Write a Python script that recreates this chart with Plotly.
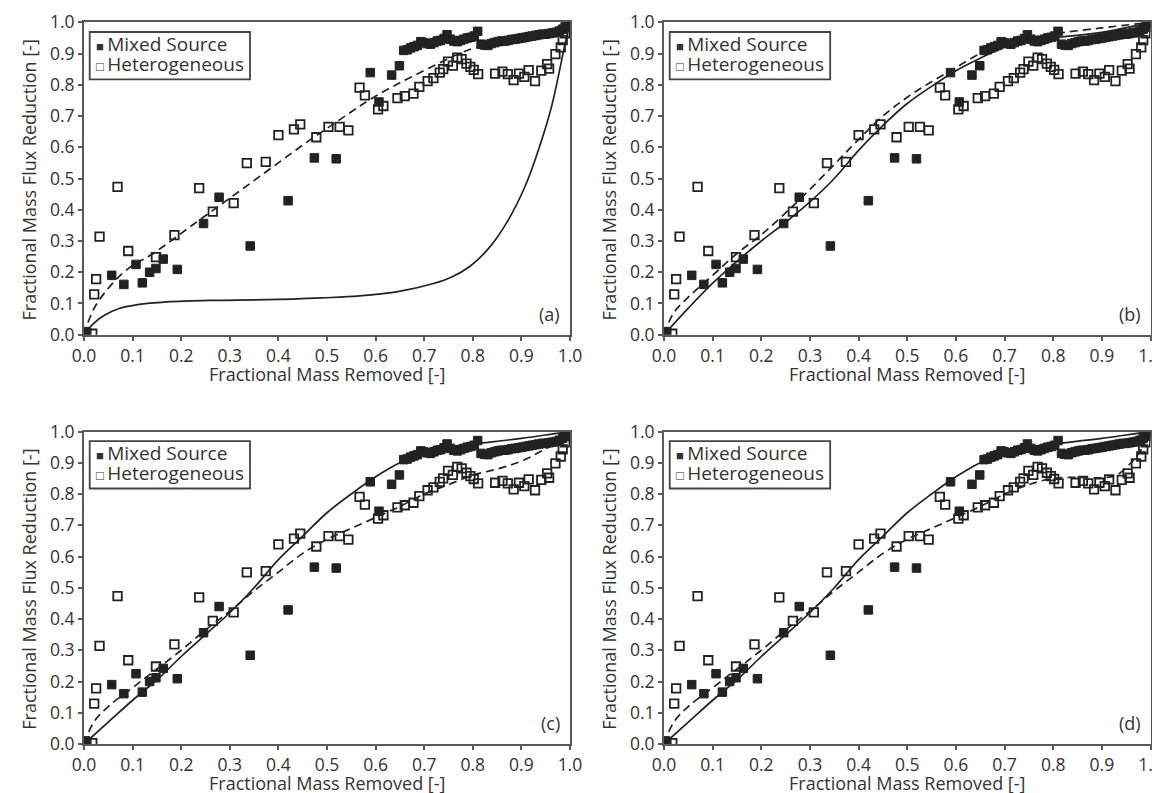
import plotly.graph_objects as go

# ---------------- data ----------------
mixed_x = [0.003, 0.057, 0.082, 0.107, 0.120, 0.135, 0.148, 0.163, 0.192, 0.246, 0.278, 0.342,
           0.420, 0.474, 0.519, 0.589, 0.607, 0.633, 0.649,
           0.658, 0.665, 0.672, 0.679, 0.686, 0.693, 0.699, 0.706, 0.713, 0.720, 0.727, 0.734,
           0.741, 0.747, 0.754, 0.761, 0.768, 0.775, 0.782, 0.789, 0.796, 0.803, 0.810, 0.817,
           0.824, 0.831, 0.838, 0.845, 0.852, 0.859, 0.866, 0.873, 0.880, 0.887, 0.894, 0.901,
           0.908, 0.915, 0.922, 0.929, 0.936, 0.943, 0.950, 0.957, 0.964, 0.971, 0.978, 0.985,
           0.990, 0.995, 0.999]
mixed_y = [0.010, 0.190, 0.161, 0.225, 0.166, 0.200, 0.212, 0.242, 0.209, 0.356, 0.440, 0.284,
           0.429, 0.566, 0.563, 0.839, 0.745, 0.831, 0.861,
           0.910, 0.912, 0.918, 0.922, 0.926, 0.938, 0.935, 0.932, 0.930, 0.935, 0.940, 0.942,
           0.948, 0.960, 0.946, 0.940, 0.938, 0.942, 0.946, 0.950, 0.952, 0.956, 0.971, 0.930,
           0.927, 0.926, 0.932, 0.935, 0.938, 0.940, 0.940, 0.942, 0.945, 0.946, 0.948, 0.950,
           0.952, 0.954, 0.956, 0.958, 0.960, 0.962, 0.962, 0.964, 0.966, 0.968, 0.972, 0.978,
           0.986, 0.993, 1.000]

hetero_x = [0.005, 0.017, 0.021, 0.025, 0.032, 0.069, 0.091, 0.148, 0.186, 0.237, 0.265, 0.308,
            0.335, 0.374, 0.400, 0.432, 0.445, 0.478, 0.503, 0.526, 0.544, 0.567, 0.578, 0.605,
            0.616, 0.645, 0.660, 0.678, 0.690, 0.707, 0.719, 0.732, 0.739, 0.749, 0.759, 0.768,
            0.777, 0.787, 0.795, 0.802, 0.811, 0.846, 0.861, 0.872, 0.884, 0.895, 0.906, 0.915,
            0.928, 0.941, 0.953, 0.957, 0.970, 0.981, 0.985, 0.990, 0.995, 0.998]
hetero_y = [0.005, 0.003, 0.129, 0.178, 0.314, 0.473, 0.268, 0.248, 0.319, 0.469, 0.394, 0.421,
            0.549, 0.553, 0.639, 0.657, 0.673, 0.632, 0.665, 0.665, 0.654, 0.791, 0.766, 0.721,
            0.732, 0.757, 0.764, 0.772, 0.793, 0.812, 0.821, 0.839, 0.850, 0.874, 0.861, 0.887,
            0.882, 0.868, 0.857, 0.848, 0.834, 0.836, 0.842, 0.834, 0.815, 0.836, 0.825, 0.847,
            0.812, 0.845, 0.866, 0.852, 0.898, 0.920, 0.943, 0.965, 0.986, 1.000]

# model curves, per panel (solid = mixed-source model, dashed = heterogeneous model)
a_solid_x = [0.0, 0.019, 0.042, 0.072, 0.110, 0.171, 0.262, 0.376, 0.490, 0.567, 0.643, 0.719,
             0.757, 0.795, 0.833, 0.871, 0.909, 0.939, 0.962, 0.977, 0.989, 1.0]
a_solid_y = [0.0, 0.035, 0.062, 0.084, 0.096, 0.105, 0.110, 0.112, 0.118, 0.124, 0.137, 0.164,
             0.185, 0.220, 0.277, 0.362, 0.480, 0.610, 0.730, 0.835, 0.925, 1.0]
a_dash_x = [0.0, 0.003, 0.025, 0.082, 0.148, 0.224, 0.300, 0.376, 0.452, 0.528, 0.598, 0.680,
            0.794, 0.85, 0.90, 0.95, 1.0]
a_dash_y = [0.0, 0.016, 0.096, 0.200, 0.266, 0.352, 0.437, 0.523, 0.609, 0.690, 0.762, 0.830,
            0.913, 0.935, 0.950, 0.965, 1.0]

b_solid_x = [0.0, 0.05, 0.10, 0.15, 0.20, 0.25, 0.30, 0.35, 0.40, 0.45, 0.50, 0.55, 0.60, 0.65,
             0.70, 0.75, 0.80, 0.90, 1.0]
b_solid_y = [0.0, 0.085, 0.165, 0.235, 0.300, 0.360, 0.425, 0.500, 0.590, 0.670, 0.740, 0.795,
             0.845, 0.885, 0.920, 0.940, 0.950, 0.968, 1.0]
b_dash_x = [0.0, 0.02, 0.05, 0.10, 0.15, 0.20, 0.25, 0.30, 0.35, 0.40, 0.45, 0.50, 0.55, 0.60,
            0.65, 0.70, 0.75, 0.80, 0.90, 1.0]
b_dash_y = [0.0, 0.070, 0.120, 0.190, 0.260, 0.320, 0.390, 0.465, 0.545, 0.625, 0.700, 0.760,
            0.810, 0.855, 0.900, 0.930, 0.950, 0.963, 0.982, 1.0]

c_solid_x = [0.0, 0.05, 0.10, 0.15, 0.20, 0.25, 0.30, 0.35, 0.40, 0.45, 0.50, 0.55, 0.60, 0.65,
             0.70, 0.75, 0.80, 0.90, 1.0]
c_solid_y = [0.0, 0.070, 0.140, 0.205, 0.280, 0.350, 0.420, 0.500, 0.590, 0.665, 0.740, 0.800,
             0.855, 0.900, 0.930, 0.950, 0.960, 0.978, 1.0]
c_dash_x = [0.0, 0.02, 0.05, 0.10, 0.15, 0.20, 0.25, 0.30, 0.35, 0.40, 0.45, 0.50, 0.55, 0.60,
            0.65, 0.70, 0.75, 0.80, 0.85, 0.90, 0.95, 1.0]
c_dash_y = [0.0, 0.070, 0.120, 0.180, 0.240, 0.300, 0.365, 0.425, 0.490, 0.550, 0.610, 0.655,
            0.690, 0.725, 0.760, 0.800, 0.830, 0.860, 0.880, 0.905, 0.945, 0.990]

d_solid_x = c_solid_x
d_solid_y = c_solid_y
d_dash_x = [0.0, 0.02, 0.05, 0.10, 0.15, 0.20, 0.25, 0.30, 0.35, 0.40, 0.45, 0.50, 0.55, 0.60,
            0.65, 0.70, 0.75, 0.80, 0.85, 0.90, 0.93, 0.96, 0.98, 1.0]
d_dash_y = [0.0, 0.070, 0.120, 0.180, 0.240, 0.300, 0.365, 0.425, 0.490, 0.550, 0.610, 0.655,
            0.690, 0.725, 0.760, 0.800, 0.830, 0.850, 0.853, 0.852, 0.860, 0.900, 0.940, 1.0]

panel_labels = ["(a)", "(b)", "(c)", "(d)"]
legend_names = ["Mixed Source", "Heterogeneous"]
x_title = "Fractional Mass Removed [-]"
y_title = "Fractional Mass Flux Reduction [-]"
tick_vals = [0.0, 0.1, 0.2, 0.3, 0.4, 0.5, 0.6, 0.7, 0.8, 0.9, 1.0]
tick_text = ["0.0", "0.1", "0.2", "0.3", "0.4", "0.5", "0.6", "0.7", "0.8", "0.9", "1.0"]

curves = [(a_solid_x, a_solid_y, a_dash_x, a_dash_y),
          (b_solid_x, b_solid_y, b_dash_x, b_dash_y),
          (c_solid_x, c_solid_y, c_dash_x, c_dash_y),
          (d_solid_x, d_solid_y, d_dash_x, d_dash_y)]

# ---------------- layout geometry ----------------
W, H = 1160, 793
x_doms = [[76 / W, 562 / W], [656 / W, 1142.5 / W]]
y_doms = [[1 - 326.7 / H, 1 - 14.3 / H], [1 - 736 / H, 1 - 423.5 / H]]

INK = "#222222"
FRAME = "#5a5a5a"
TXT = "#333333"
FONT = "Open Sans"
FS_TICK = 17.5
FS_TITLE = 18
FS_LEG = 19

fig = go.Figure()
layout = dict(width=W, height=H, margin=dict(l=0, r=0, t=0, b=0),
              paper_bgcolor="white", plot_bgcolor="white", showlegend=False,
              font=dict(family=FONT, size=FS_TICK, color=TXT))
annotations = []
shapes = []

for i in range(4):
    row, col = divmod(i, 2)
    sfx = "" if i == 0 else str(i + 1)
    xa, ya = "x" + sfx, "y" + sfx
    sx, sy, dx, dy = curves[i]
    fig.add_trace(go.Scatter(x=dx, y=dy, mode="lines", line_shape="spline",
                             line=dict(color=INK, width=1.7, dash="8px,5px"),
                             xaxis=xa, yaxis=ya, hoverinfo="skip"))
    fig.add_trace(go.Scatter(x=sx, y=sy, mode="lines", line_shape="spline",
                             line=dict(color=INK, width=1.7),
                             xaxis=xa, yaxis=ya, hoverinfo="skip"))
    fig.add_trace(go.Scatter(x=mixed_x, y=mixed_y, mode="markers", name=legend_names[0],
                             marker=dict(symbol="square", size=8.5, color=INK,
                                         line=dict(color=INK, width=1)),
                             xaxis=xa, yaxis=ya))
    fig.add_trace(go.Scatter(x=hetero_x, y=hetero_y, mode="markers", name=legend_names[1],
                             marker=dict(symbol="square-open", size=8.5, color=INK,
                                         line=dict(color=INK, width=1.8)),
                             xaxis=xa, yaxis=ya))

    axis_common = dict(range=[0, 1], tickvals=tick_vals, ticktext=tick_text,
                       showgrid=False, zeroline=False, showline=True, mirror=True,
                       linecolor=FRAME, linewidth=2, ticks="outside", ticklen=4,
                       tickwidth=1.5, tickcolor=FRAME, automargin=False,
                       tickfont=dict(family=FONT, size=FS_TICK, color=TXT))
    layout["xaxis" + sfx] = dict(axis_common, domain=x_doms[col], anchor=ya)
    layout["yaxis" + sfx] = dict(axis_common, domain=y_doms[row], anchor=xa)

    # axis titles
    annotations.append(dict(xref=xa + " domain", yref=ya + " domain", x=0.5, y=0,
                            xanchor="center", yanchor="middle", yshift=-39,
                            showarrow=False, text=x_title,
                            font=dict(family=FONT, size=FS_TITLE, color=TXT)))
    annotations.append(dict(xref=xa + " domain", yref=ya + " domain", x=0, y=0.5,
                            xanchor="center", yanchor="middle", xshift=-55, yshift=-2,
                            textangle=-90, showarrow=False, text=y_title,
                            font=dict(family=FONT, size=FS_TITLE, color=TXT)))
    # panel label
    annotations.append(dict(xref=xa + " domain", yref=ya + " domain", x=1, y=0,
                            xanchor="right", yanchor="middle", xshift=-8, yshift=21,
                            showarrow=False, text=panel_labels[i],
                            font=dict(family=FONT, size=FS_TITLE, color=TXT)))
    # legend box and entries
    shapes.append(dict(type="rect", xref=xa + " domain", yref=ya + " domain",
                       x0=5.7 / 486, x1=166 / 486, y0=1 - 57 / 312.4, y1=1 - 9.7 / 312.4,
                       line=dict(color="#444444", width=1.8), fillcolor="white", layer="below"))
    for k, (sym, nm) in enumerate([("\u25a0", legend_names[0]), ("\u25a1", legend_names[1])]):
        annotations.append(dict(xref=xa + " domain", yref=ya + " domain", x=0, y=1,
                                xanchor="left", yanchor="middle", xshift=10,
                                yshift=-(22 + 19.5 * k), showarrow=False, align="left",
                                text="<span style='font-size:13px'>" + sym + " </span>" + nm,
                                font=dict(family=FONT, size=FS_LEG, color=TXT)))

layout["annotations"] = annotations
layout["shapes"] = shapes
fig.update_layout(**layout)
fig.write_html("out.html")
